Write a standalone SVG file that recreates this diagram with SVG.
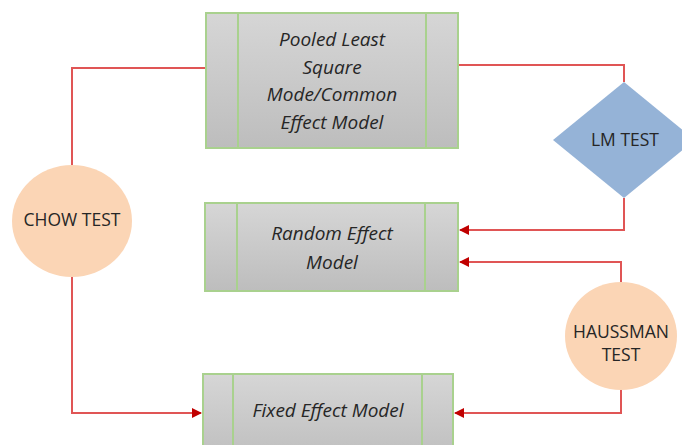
<svg xmlns="http://www.w3.org/2000/svg" width="682" height="445" viewBox="0 0 682 445">
<defs>
<linearGradient id="boxg" x1="0" y1="0" x2="0" y2="1">
<stop offset="0" stop-color="#d6d6d6"/>
<stop offset="1" stop-color="#bdbdbd"/>
</linearGradient>
<marker id="arr" viewBox="0 0 10 10" refX="9" refY="5" markerWidth="5" markerHeight="5" orient="auto" markerUnits="strokeWidth">
<path d="M0,0 L10,5 L0,10 z" fill="#c00000"/>
</marker>
<style>
.box{fill:url(#boxg);stroke:#a9d18e;stroke-width:2}
.div{stroke:#a9d18e;stroke-width:2}
.bt{font-family:"Open Sans","Liberation Sans",sans-serif;font-style:italic;font-size:19px;fill:#262626;text-anchor:middle}
.nt{font-family:"Open Sans","Liberation Sans",sans-serif;font-size:17.5px;fill:#262626;text-anchor:middle}
.con{fill:none;stroke:#e05555;stroke-width:2}
.peach{fill:#fbd5b5}
</style>
</defs>
<rect width="682" height="445" fill="#fff"/>
<g id="connectors">
<polyline class="con" points="206,68 72,68 72,165"/>
<polyline class="con" points="458,65 624,65 624,82"/>
<polyline class="con" points="624,198 624,230 460,230" marker-end="url(#arr)"/>
<polyline class="con" points="621,282 621,262 460,262" marker-end="url(#arr)"/>
<polyline class="con" points="72,277 72,413 201,413" marker-end="url(#arr)"/>
<polyline class="con" points="621,390 621,413 455,413" marker-end="url(#arr)"/>
</g>
<g id="pooled">
<rect class="box" x="206" y="13" width="252" height="135"/>
<line class="div" x1="238" y1="13" x2="238" y2="148"/>
<line class="div" x1="426" y1="13" x2="426" y2="148"/>
<text class="bt" x="332" y="46">Pooled Least</text>
<text class="bt" x="332" y="74">Square</text>
<text class="bt" x="332" y="101">Mode/Common</text>
<text class="bt" x="332" y="129">Effect Model</text>
</g>
<g id="random">
<rect class="box" x="205" y="203" width="253" height="88"/>
<line class="div" x1="237" y1="203" x2="237" y2="291"/>
<line class="div" x1="425" y1="203" x2="425" y2="291"/>
<text class="bt" x="332" y="240">Random Effect</text>
<text class="bt" x="332" y="269">Model</text>
</g>
<g id="fixed">
<rect class="box" x="203" y="374" width="250" height="90"/>
<line class="div" x1="233" y1="374" x2="233" y2="464"/>
<line class="div" x1="422" y1="374" x2="422" y2="464"/>
<text class="bt" x="328" y="417">Fixed Effect Model</text>
</g>
<g id="lmtest">
<polygon points="624,82 695,140 624,198 553,140" fill="#95b3d7"/>
<text class="nt" x="625" y="146">LM TEST</text>
</g>
<g id="chow">
<ellipse class="peach" cx="72" cy="221" rx="60" ry="56"/>
<text class="nt" x="72" y="226">CHOW TEST</text>
</g>
<g id="haussman">
<ellipse class="peach" cx="621" cy="336" rx="56" ry="54"/>
<text class="nt" x="621" y="338">HAUSSMAN</text>
<text class="nt" x="621" y="361">TEST</text>
</g>
</svg>
